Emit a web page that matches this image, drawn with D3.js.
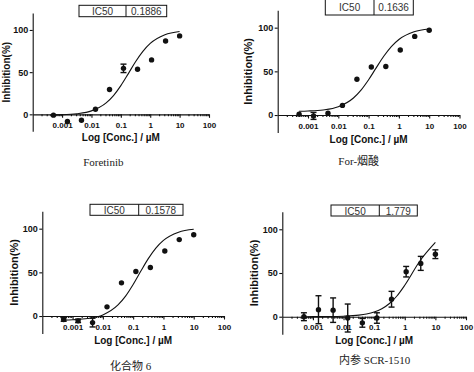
<!DOCTYPE html>
<html>
<head>
<meta charset="utf-8">
<script src="https://cdn.jsdelivr.net/npm/d3@7"></script>
<style>
  body { margin: 0; background: #fff; }
  svg { display: block; }
</style>
</head>
<body>
<div id="chart"></div>
<script>
// concentrations (uM), 3-fold dilution
const conc = [0.000508, 0.00152, 0.00457, 0.0137, 0.0412, 0.123, 0.370, 1.11, 3.33, 10];

const foretinibInh = [-1, -8.5, -7, 6, 29.5, 54.5, 53.5, 64.5, 87, 93];
const foretinibErr = [0, 0, 0, 0, 0, 5, 0, 0, 0, 0];
const forNicInh = [1, -1, 2, 11, 41, 55, 55.5, 74.5, 90, 97];
const forNicErr = [0, 4, 0, 0, 0, 0, 0, 0, 0, 0];
const cpd6Inh = [-4, -5.5, -7.5, 10.5, 38, 51, 55.5, 74.5, 87.5, 93];
const cpd6Err = [2, 2, 5, 0, 0, 0, 0, 0, 0, 0];
const scrInh = [0, 8, 7.5, -1.5, -7, -1.5, 20, 51.5, 61, 71.5];
const scrErr = [4.5, 16, 14, 16, 5, 6, 9, 6, 8, 5];

// fitted curves
const fitConc = [0.000508, 0.001, 0.00316, 0.01, 0.0316, 0.0562, 0.1, 0.178, 0.316, 0.562, 1, 3.16, 10];
const foretinibFit = [-0.7, -0.5, 0.7, 4.1, 13.5, 22.2, 34, 48, 62.3, 74.6, 84, 94.3, 98.1];
const forNicFit = [4.3, 4.6, 5.8, 9.5, 19.5, 28.5, 40.4, 54, 67.3, 78.4, 86.5, 95.3, 98.5];
const cpd6Fit = [-4.7, -4.3, -2.9, 1.3, 12.7, 22.8, 36.1, 51.2, 65.7, 77.8, 86.6, 96, 99.3];
const scrFit = [0, 0.1, 0.2, 0.6, 1.8, 3.1, 5.3, 9.1, 15.1, 24, 36, 64, 84.9];

const ic50Values = ["0.1886", "0.1636", "0.1578", "1.779"];
const captions = ["Foretinib", "For-烟酸", "化合物 6", "内参 SCR-1510"];

const xTicks = [0.001, 0.01, 0.1, 1, 10, 100];
const xTickLabels = ["0.001", "0.01", "0.1", "1", "10", "100"];
const yTicks = [0, 50, 100];

const width = 474, height = 372;

// panel placement
const layout = [
  { inh: foretinibInh, err: foretinibErr, fit: foretinibFit,
    x: [32.7, 209], y: [131.2, 13.1], ylabX: 6, ylabSize: 10, titleY: 140.5,
    box: [79, 126, 166.7, 5.3, 16.7], cap: [103.3, 165.5] },
  { inh: forNicInh, err: forNicErr, fit: forNicFit,
    x: [277.7, 459.5], y: [132.5, 10.2], ylabX: 248, ylabSize: 11, titleY: 142.7,
    box: [325.3, 374, 413.3, -1, 15], cap: [358.7, 165] },
  { inh: cpd6Inh, err: cpd6Err, fit: cpd6Fit,
    x: [42.3, 224], y: [333.5, 211.2], ylabX: 14, ylabSize: 11, titleY: 344.3,
    box: [90, 138.7, 183, 204.3, 215.3], cap: [130.7, 370] },
  { inh: scrInh, err: scrErr, fit: scrFit,
    x: [282.3, 466], y: [334.2, 211.8], ylabX: 254, ylabSize: 11, titleY: 344.3,
    box: [331, 379.3, 417.3, 205, 216], cap: [374.7, 364.3] }
];

const svg = d3.select("#chart").append("svg")
  .attr("width", width)
  .attr("height", height);

layout.forEach(function (p, k) {
  const g = svg.append("g");
  const x = d3.scaleLog().domain([1e-4, 100]).range(p.x);
  const y = d3.scaleLinear().domain([-20, 120]).range(p.y);

  // y axis
  const yAxis = g.append("g")
    .attr("transform", `translate(${p.x[0]},0)`)
    .call(d3.axisLeft(y).tickValues(yTicks).tickSize(3).tickSizeOuter(0).tickPadding(1.5));
  yAxis.selectAll("text")
    .style("font", "bold 9px 'Liberation Sans', Arial, sans-serif")
    .attr("fill", "#111");

  // x axis at y = 0
  const minors = x.ticks().filter((d) => !xTicks.includes(d) && Math.abs(Math.log10(d) % 1) > 1e-6);
  const xMinor = g.append("g")
    .attr("transform", `translate(0,${y(0)})`)
    .call(d3.axisBottom(x).tickValues(minors).tickSize(2).tickSizeOuter(0).tickFormat(""));
  xMinor.select(".domain").remove();
  const xAxis = g.append("g")
    .attr("transform", `translate(0,${y(0)})`)
    .call(d3.axisBottom(x).tickValues(xTicks).tickSize(3.5).tickSizeOuter(0).tickPadding(4.5)
      .tickFormat((d, i) => xTickLabels[i]));
  xAxis.selectAll("text")
    .style("font", "bold 8px 'Liberation Sans', Arial, sans-serif")
    .attr("fill", "#111");

  g.selectAll(".domain, .tick line").attr("stroke", "#111").attr("stroke-width", 1.1);

  // axis titles
  g.append("text")
    .attr("x", (p.x[0] + p.x[1]) / 2)
    .attr("y", p.titleY)
    .attr("text-anchor", "middle")
    .style("font", "bold 10px 'Liberation Sans', Arial, sans-serif")
    .attr("fill", "#111")
    .text("Log [Conc.] / µM");

  g.append("text")
    .attr("transform", `translate(${p.ylabX},${y(50)}) rotate(-90)`)
    .attr("text-anchor", "middle")
    .attr("dominant-baseline", "central")
    .style("font", `bold ${p.ylabSize}px 'Liberation Sans', Arial, sans-serif`)
    .attr("fill", "#111")
    .text("Inhibition(%)");

  // fitted curve
  const line = d3.line()
    .x((d, i) => x(fitConc[i]))
    .y((d) => y(d))
    .curve(d3.curveMonotoneX);
  g.append("path")
    .datum(p.fit)
    .attr("d", line)
    .attr("fill", "none")
    .attr("stroke", "#111")
    .attr("stroke-width", 1.1);

  // error bars
  const pts = p.inh.map((v, i) => ({ c: conc[i], v: v, e: p.err[i] }));
  const bars = g.selectAll(".eb")
    .data(pts.filter((d) => d.e > 0))
    .join("g");
  bars.append("line")
    .attr("x1", (d) => x(d.c)).attr("x2", (d) => x(d.c))
    .attr("y1", (d) => y(d.v - d.e)).attr("y2", (d) => y(d.v + d.e));
  bars.append("line")
    .attr("x1", (d) => x(d.c) - 3).attr("x2", (d) => x(d.c) + 3)
    .attr("y1", (d) => y(d.v + d.e)).attr("y2", (d) => y(d.v + d.e));
  bars.append("line")
    .attr("x1", (d) => x(d.c) - 3).attr("x2", (d) => x(d.c) + 3)
    .attr("y1", (d) => y(d.v - d.e)).attr("y2", (d) => y(d.v - d.e));
  bars.selectAll("line").attr("stroke", "#111").attr("stroke-width", 1.4);

  // points
  g.selectAll(".pt")
    .data(pts)
    .join("circle")
    .attr("cx", (d) => x(d.c))
    .attr("cy", (d) => y(d.v))
    .attr("r", 2.7)
    .attr("fill", "#111");

  // IC50 box
  const b = p.box;
  g.append("rect")
    .attr("x", b[0]).attr("y", b[3])
    .attr("width", b[2] - b[0]).attr("height", b[4] - b[3])
    .attr("fill", "#fff").attr("stroke", "#111").attr("stroke-width", 1);
  g.append("line")
    .attr("x1", b[1]).attr("x2", b[1]).attr("y1", b[3]).attr("y2", b[4])
    .attr("stroke", "#111").attr("stroke-width", 1);
  g.append("text")
    .attr("x", (b[0] + b[1]) / 2).attr("y", (b[3] + b[4]) / 2 + 0.5)
    .attr("text-anchor", "middle").attr("dominant-baseline", "central")
    .style("font", "10px 'Liberation Sans', Arial, sans-serif")
    .attr("fill", "#333")
    .text("IC50");
  g.append("text")
    .attr("x", (b[1] + b[2]) / 2).attr("y", (b[3] + b[4]) / 2 + 0.5)
    .attr("text-anchor", "middle").attr("dominant-baseline", "central")
    .style("font", "10px 'Liberation Sans', Arial, sans-serif")
    .attr("fill", "#333")
    .text(ic50Values[k]);

  // caption
  g.append("text")
    .attr("x", p.cap[0]).attr("y", p.cap[1])
    .attr("text-anchor", "middle")
    .style("font", "11px 'Liberation Serif', 'Noto Sans CJK SC', serif")
    .attr("fill", "#222")
    .text(captions[k]);
});
</script>
</body>
</html>
